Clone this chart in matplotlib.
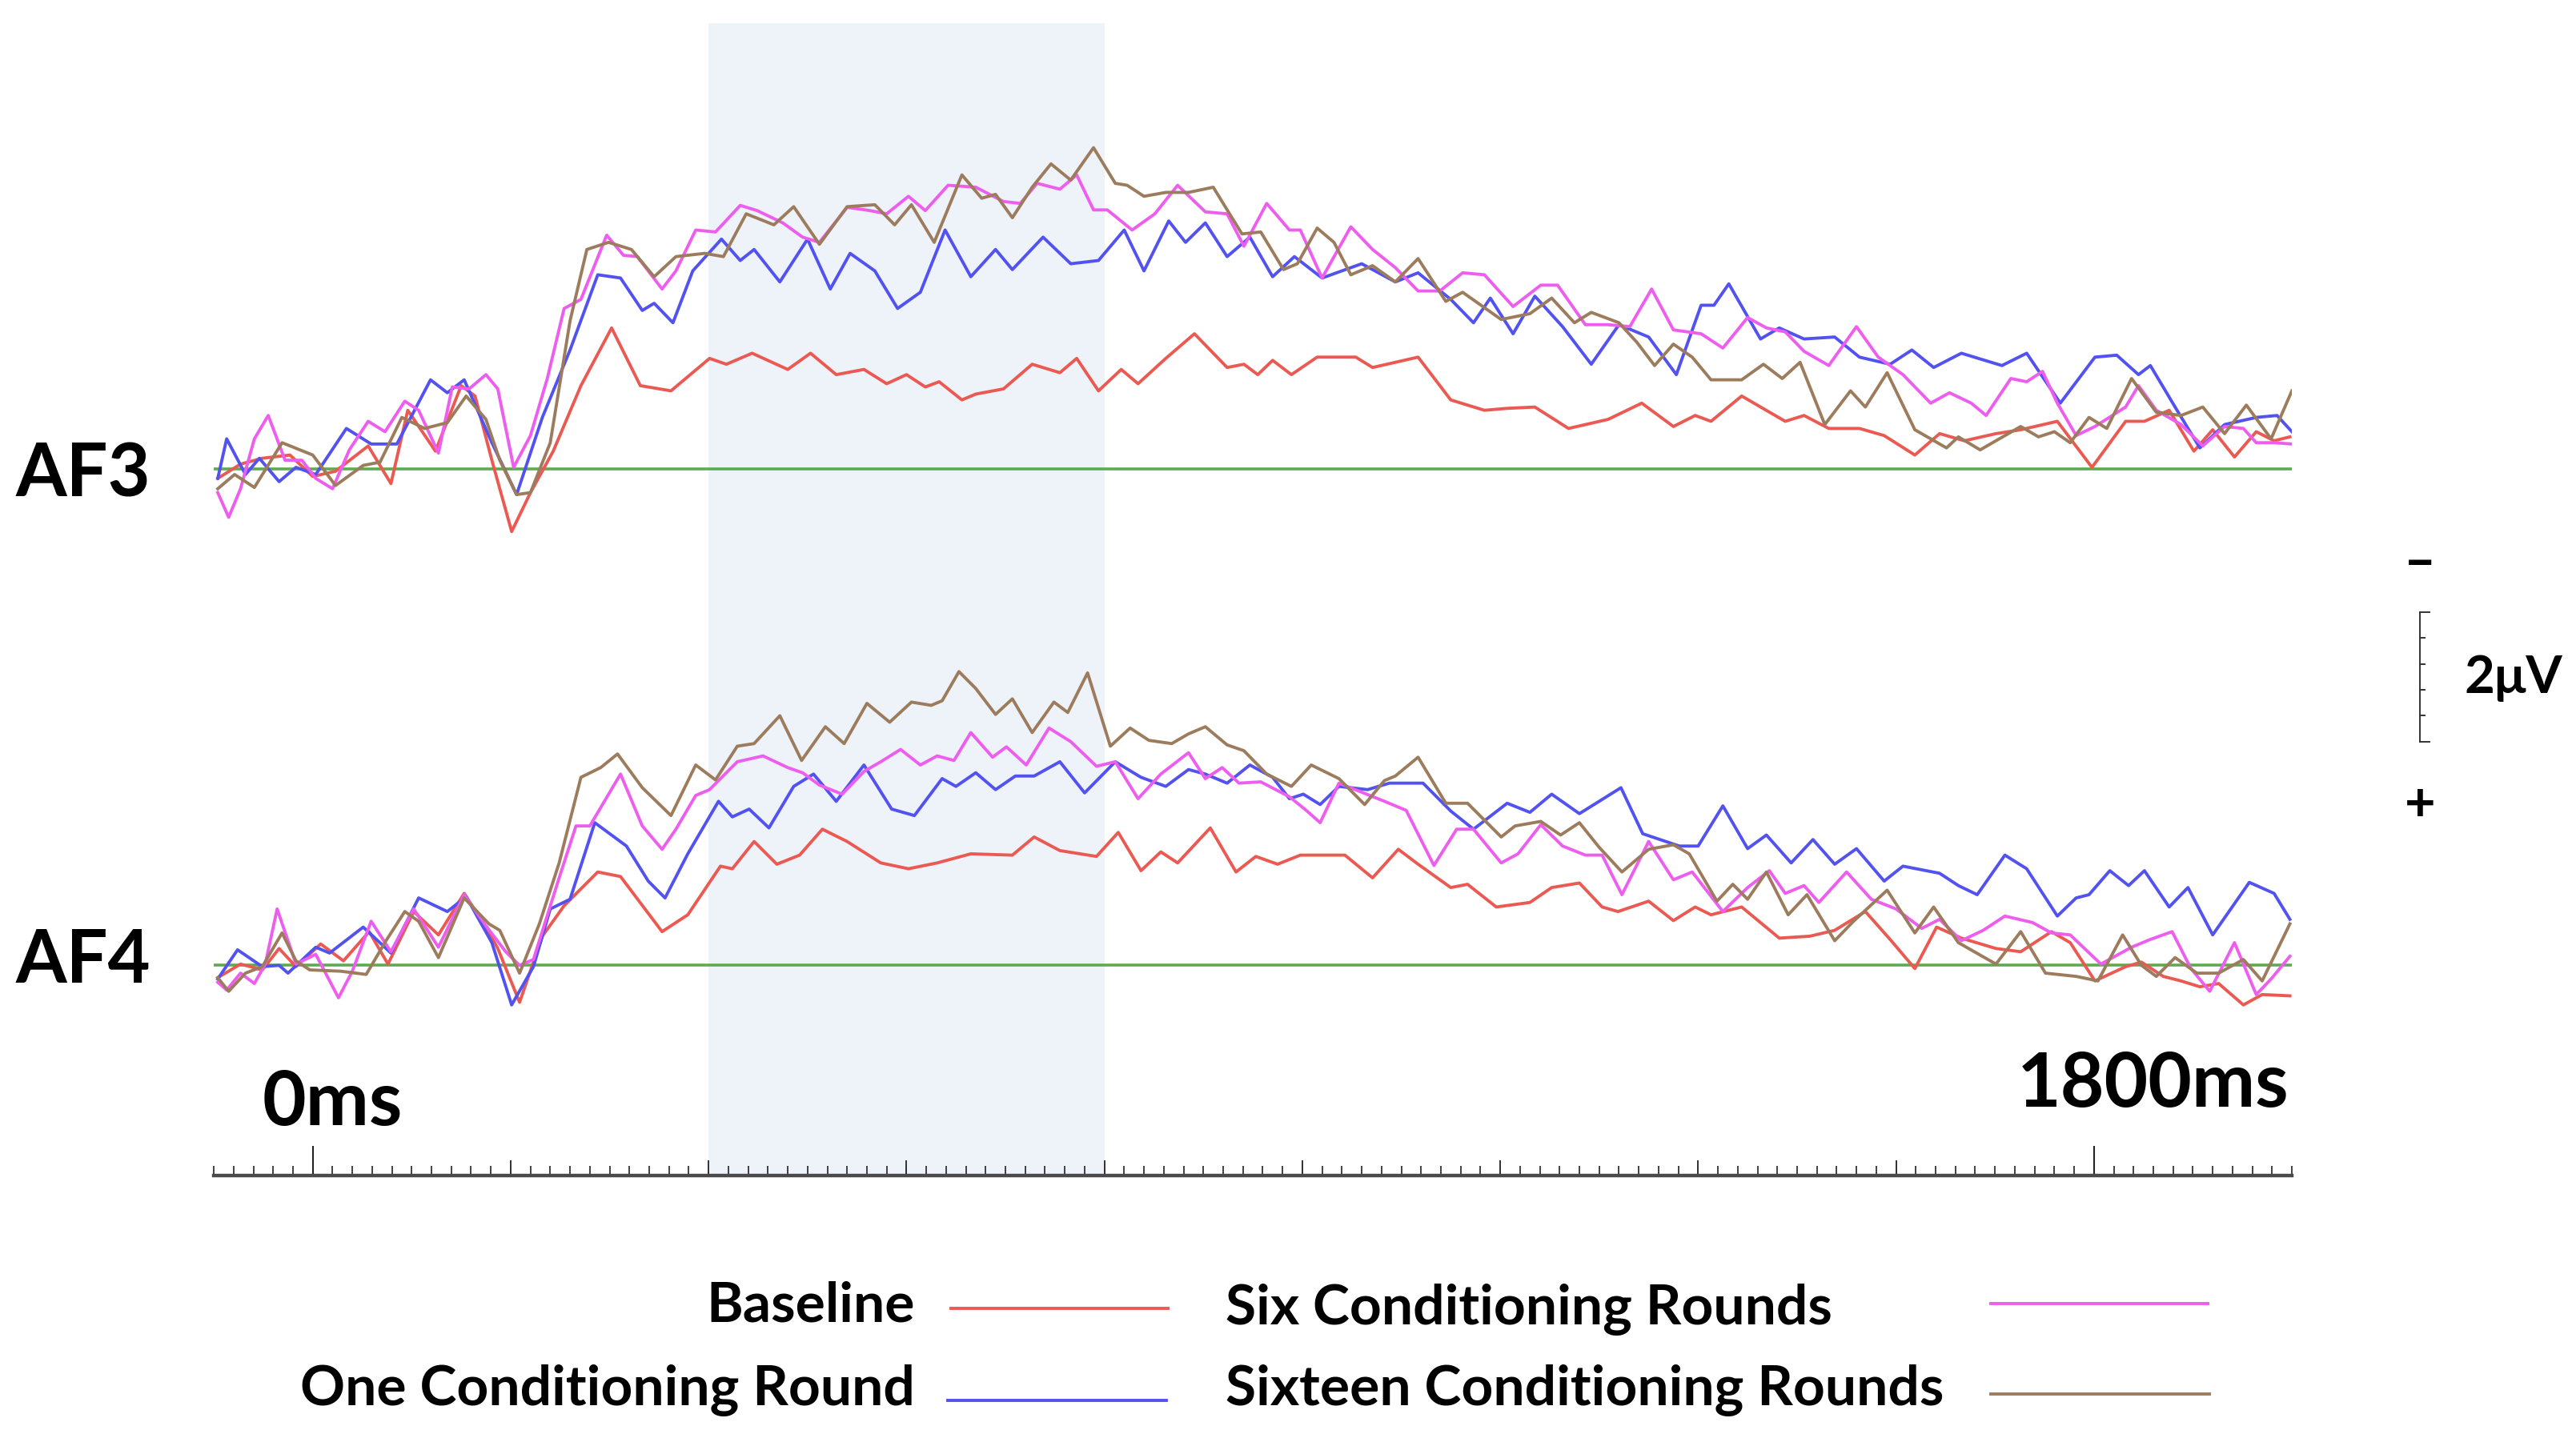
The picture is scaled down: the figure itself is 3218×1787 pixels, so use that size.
import matplotlib
matplotlib.use('Agg')
import matplotlib.pyplot as plt
from matplotlib.ticker import MultipleLocator, NullLocator
from matplotlib.lines import Line2D

# ERP traces, (time in ms, amplitude in uV), negative plotted up
af3_baseline = [(-96,0.14),(-73,-0.08),(-51,-0.17),(-23,-0.22),(0,0.11),(23,0.03),(56,-0.36),(79,0.22),(96,-0.91),(124,-0.28),
    (150,-1.29),(164,-1.13),(181,-0.14),(201,0.96),(220,0.36),(243,-0.28),(271,-1.29),(302,-2.18),(331,-1.29),(362,-1.21),
    (401,-1.71),(418,-1.62),(444,-1.79),(480,-1.54),(503,-1.79),(529,-1.46),(557,-1.54),(580,-1.32),(600,-1.46),(619,-1.27),
    (633,-1.35),(656,-1.07),(670,-1.16),(698,-1.24),(727,-1.62),(755,-1.49),(772,-1.71),(794,-1.21),(817,-1.54),(834,-1.32),
    (862,-1.71),(891,-2.09),(924,-1.57),(941,-1.62),(955,-1.46),(970,-1.68),(989,-1.46),(1015,-1.73),(1054,-1.73),(1071,-1.57),
    (1117,-1.73),(1150,-1.07),(1184,-0.91),(1207,-0.94),(1235,-0.96),(1269,-0.63),(1309,-0.77),(1343,-1.02),(1375,-0.66),(1397,-0.83),
    (1413,-0.74),(1444,-1.13),(1488,-0.74),(1507,-0.83),(1532,-0.63),(1563,-0.63),(1588,-0.52),(1619,-0.22),(1644,-0.55),(1669,-0.44),
    (1701,-0.55),(1726,-0.61),(1763,-0.74),(1798,-0.03),(1832,-0.74),(1851,-0.74),(1876,-0.91),(1901,-0.28),(1920,-0.61),(1942,-0.19),
    (1964,-0.58),(1982,-0.44),(1998,-0.50)]

af3_one = [(-96,0.14),(-87,-0.47),(-68,0.08),(-54,-0.17),(-34,0.19),(-17,-0.03),(3,0.08),(34,-0.63),(59,-0.39),(85,-0.39),
    (119,-1.38),(136,-1.18),(153,-1.38),(181,-0.41),(206,0.39),(232,-0.80),(260,-1.84),(288,-3.00),(311,-2.95),(333,-2.45),
    (345,-2.56),(364,-2.26),(384,-3.06),(413,-3.55),(432,-3.22),(446,-3.39),(472,-2.89),(500,-3.55),(523,-2.78),(543,-3.33),
    (568,-3.06),(591,-2.48),(614,-2.73),(639,-3.69),(665,-2.97),(690,-3.39),(707,-3.08),(738,-3.58),(766,-3.17),(794,-3.22),
    (820,-3.69),(840,-3.06),(865,-3.83),(882,-3.50),(902,-3.80),(924,-3.28),(947,-3.58),(970,-2.97),(992,-3.28),(1020,-2.95),
    (1060,-3.17),(1094,-2.89),(1117,-3.03),(1150,-2.62),(1173,-2.26),(1190,-2.64),(1213,-2.09),(1235,-2.67),(1263,-2.20),(1292,-1.62),
    (1320,-2.23),(1350,-2.04),(1378,-1.46),(1403,-2.53),(1416,-2.53),(1431,-2.86),(1463,-2.01),(1482,-2.18),(1507,-2.01),(1538,-2.04),
    (1563,-1.73),(1594,-1.62),(1616,-1.84),(1638,-1.57),(1666,-1.79),(1707,-1.60),(1732,-1.79),(1766,-1.02),(1801,-1.73),(1823,-1.76),
    (1845,-1.46),(1857,-1.60),(1882,-0.96),(1907,-0.33),(1932,-0.69),(1964,-0.80),(1985,-0.83),(2000,-0.58)]

af3_six = [(-96,0.36),(-85,0.74),(-73,0.30),(-59,-0.47),(-45,-0.83),(-28,-0.14),(-11,-0.14),(3,0.14),(20,0.30),(37,-0.30),
    (56,-0.74),(73,-0.58),(93,-1.05),(107,-0.91),(127,-0.25),(141,-1.27),(158,-1.24),(175,-1.46),(187,-1.24),(203,-0.03),
    (220,-0.52),(237,-1.40),(254,-2.48),(271,-2.62),(297,-3.61),(314,-3.30),(328,-3.28),(353,-2.78),(367,-3.06),(387,-3.69),
    (407,-3.66),(432,-4.07),(449,-3.99),(475,-3.80),(495,-3.58),(512,-3.50),(540,-4.04),(563,-3.99),(580,-3.94),(602,-4.21),
    (619,-3.99),(642,-4.38),(670,-4.35),(698,-4.13),(715,-4.10),(732,-4.41),(755,-4.32),(772,-4.54),(789,-4.00),(803,-4.00),
    (828,-3.69),(851,-3.94),(874,-4.38),(902,-3.97),(924,-3.94),(941,-3.44),(964,-4.10),(987,-3.69),(998,-3.69),(1020,-2.95),
    (1049,-3.74),(1071,-3.39),(1094,-3.11),(1117,-2.75),(1139,-2.75),(1162,-3.03),(1184,-3.00),(1213,-2.51),(1241,-2.84),(1258,-2.84),
    (1286,-2.23),(1309,-2.23),(1331,-2.20),(1353,-2.78),(1375,-2.15),(1403,-2.09),(1425,-1.87),(1450,-2.34),(1469,-2.18),(1488,-2.12),
    (1507,-1.82),(1532,-1.60),(1560,-2.20),(1582,-1.73),(1607,-1.46),(1635,-1.02),(1654,-1.18),(1676,-1.02),(1691,-0.83),(1716,-1.40),
    (1732,-1.35),(1748,-1.51),(1763,-1.02),(1782,-0.52),(1801,-0.66),(1832,-0.96),(1845,-1.29),(1863,-0.91),(1888,-0.69),(1910,-0.36),
    (1932,-0.66),(1951,-0.63),(1964,-0.41),(1982,-0.41),(2000,-0.39)]

af3_sixteen = [(-96,0.30),(-79,0.08),(-59,0.28),(-31,-0.41),(0,-0.22),(23,0.25),(51,-0.06),(68,-0.11),(90,-0.80),(113,-0.63),
    (136,-0.72),(155,-1.13),(175,-0.77),(189,-0.14),(206,0.39),(220,0.36),(240,-0.41),(260,-2.29),(277,-3.39),(299,-3.50),
    (322,-3.39),(345,-2.97),(367,-3.28),(396,-3.33),(415,-3.28),(438,-3.94),(466,-3.77),(486,-4.05),(512,-3.47),(540,-4.05),
    (568,-4.08),(588,-3.77),(605,-4.08),(628,-3.50),(656,-4.54),(676,-4.18),(690,-4.24),(707,-3.88),(727,-4.35),(746,-4.71),
    (766,-4.46),(789,-4.96),(811,-4.41),(823,-4.38),(840,-4.21),(862,-4.27),(885,-4.27),(910,-4.35),(939,-3.63),(958,-3.66),
    (981,-3.08),(995,-3.17),(1015,-3.72),(1032,-3.50),(1049,-3.00),(1071,-3.14),(1094,-2.89),(1117,-3.25),(1145,-2.59),(1162,-2.73),
    (1201,-2.31),(1230,-2.40),(1252,-2.64),(1275,-2.26),(1292,-2.42),(1320,-2.26),(1338,-1.96),(1356,-1.60),(1375,-1.93),(1394,-1.73),
    (1413,-1.38),(1444,-1.38),(1466,-1.62),(1485,-1.40),(1503,-1.65),(1528,-0.69),(1554,-1.21),(1569,-0.96),(1591,-1.49),(1619,-0.61),
    (1651,-0.33),(1663,-0.50),(1685,-0.30),(1726,-0.66),(1744,-0.50),(1760,-0.58),(1776,-0.41),(1795,-0.80),(1813,-0.63),(1838,-1.40),
    (1863,-0.88),(1888,-0.83),(1910,-0.96),(1932,-0.55),(1954,-0.99),(1979,-0.47),(2000,-1.21)]

af4_baseline = [(-96,0.19),(-73,-0.02),(-51,0.07),(-34,-0.26),(-17,0.02),(8,-0.33),(31,-0.07),(57,-0.52),(76,-0.02),(102,-0.83),
    (127,-0.47),(153,-1.11),(175,-0.59),(187,-0.26),(209,0.57),(232,-0.45),(254,-0.92),(288,-1.44),(311,-1.37),(353,-0.52),
    (379,-0.78),(412,-1.53),(424,-1.49),(446,-1.91),(469,-1.56),(492,-1.70),(515,-2.10),(540,-1.91),(574,-1.58),(602,-1.49),
    (631,-1.58),(665,-1.72),(707,-1.70),(729,-1.98),(755,-1.77),(792,-1.68),(814,-2.05),(837,-1.46),(857,-1.75),(874,-1.58),
    (907,-2.12),(933,-1.44),(953,-1.68),(975,-1.56),(998,-1.70),(1043,-1.70),(1071,-1.35),(1097,-1.79),(1117,-1.56),(1150,-1.20),
    (1167,-1.25),(1196,-0.90),(1230,-0.97),(1252,-1.20),(1280,-1.27),(1303,-0.90),(1319,-0.83),(1350,-0.99),(1375,-0.69),(1397,-0.90),
    (1413,-0.78),(1444,-0.90),(1482,-0.42),(1513,-0.45),(1538,-0.54),(1569,-0.83),(1594,-0.40),(1619,0.05),(1641,-0.59),(1666,-0.42),
    (1701,-0.26),(1726,-0.21),(1757,-0.52),(1776,-0.35),(1801,0.24),(1832,0.02),(1848,-0.05),(1870,0.17),(1888,0.24),(1907,0.33),
    (1926,0.28),(1951,0.61),(1970,0.45),(1998,0.47)]

af4_one = [(-96,0.21),(-76,-0.24),(-51,0.02),(-34,0.00),(-25,0.12),(3,-0.28),(17,-0.19),(51,-0.59),(79,-0.19),(107,-1.04),
    (136,-0.83),(155,-1.06),(181,-0.35),(201,0.61),(223,0.02),(240,-0.87),(260,-1.02),(285,-2.20),(317,-1.84),(339,-1.30),
    (356,-1.04),(379,-1.72),(410,-2.53),(424,-2.29),(441,-2.41),(461,-2.12),(486,-2.76),(506,-2.95),(529,-2.53),(557,-3.09),
    (585,-2.41),(608,-2.31),(636,-2.88),(650,-2.76),(670,-2.97),(690,-2.71),(710,-2.92),(729,-2.92),(755,-3.14),(780,-2.66),
    (811,-3.14),(837,-2.90),(862,-2.76),(885,-3.02),(902,-2.95),(924,-2.81),(947,-3.09),(970,-2.90),(987,-2.57),(1001,-2.64),
    (1018,-2.48),(1037,-2.76),(1066,-2.71),(1088,-2.81),(1122,-2.81),(1150,-2.38),(1173,-2.10),(1207,-2.50),(1230,-2.36),(1252,-2.64),
    (1280,-2.34),(1300,-2.53),(1322,-2.74),(1344,-2.03),(1381,-1.84),(1400,-1.84),(1425,-2.46),(1450,-1.80),(1469,-2.01),(1494,-1.58),
    (1516,-1.94),(1538,-1.56),(1560,-1.80),(1588,-1.30),(1607,-1.53),(1644,-1.42),(1663,-1.23),(1682,-1.09),(1710,-1.70),(1732,-1.49),
    (1763,-0.76),(1782,-1.04),(1795,-1.09),(1816,-1.46),(1835,-1.23),(1851,-1.46),(1876,-0.90),(1895,-1.20),(1920,-0.47),(1957,-1.28),
    (1982,-1.11),(1998,-0.71)]

af4_six = [(-96,0.26),(-87,0.38),(-73,0.12),(-59,0.28),(-48,-0.02),(-36,-0.87),(-17,-0.02),(3,-0.17),(26,0.50),(40,0.09),
    (59,-0.68),(79,-0.21),(102,-0.87),(127,-0.28),(153,-1.09),(175,-0.61),(195,-0.21),(209,0.00),(223,-0.09),(249,-1.35),
    (266,-2.15),(280,-2.15),(311,-2.95),(333,-2.15),(353,-1.79),(367,-2.10),(387,-2.62),(401,-2.71),(429,-3.14),(455,-3.23),
    (480,-3.05),(495,-2.97),(512,-2.78),(535,-2.64),(557,-2.99),(574,-3.14),(594,-3.33),(614,-3.09),(631,-3.23),(648,-3.16),
    (665,-3.59),(687,-3.21),(701,-3.37),(721,-3.09),(744,-3.66),(766,-3.45),(792,-3.07),(811,-3.14),(834,-2.57),(857,-2.95),
    (885,-3.28),(902,-2.88),(919,-3.05),(936,-2.81),(958,-2.83),(987,-2.60),(1004,-2.39),(1018,-2.20),(1037,-2.81),(1060,-2.67),
    (1083,-2.53),(1105,-2.39),(1133,-1.54),(1156,-2.10),(1173,-2.10),(1201,-1.58),(1218,-1.72),(1241,-2.17),(1263,-1.84),(1286,-1.70),
    (1303,-1.70),(1323,-1.09),(1350,-1.91),(1375,-1.32),(1394,-1.44),(1425,-0.83),(1450,-1.20),(1472,-1.46),(1488,-1.11),(1507,-1.23),
    (1522,-0.97),(1550,-1.44),(1575,-1.02),(1600,-0.87),(1626,-0.57),(1644,-0.71),(1666,-0.38),(1688,-0.54),(1710,-0.76),(1738,-0.66),
    (1757,-0.50),(1776,-0.47),(1807,-0.02),(1838,-0.28),(1857,-0.40),(1879,-0.52),(1898,0.05),(1917,0.40),(1942,-0.35),(1964,0.45),
    (1979,0.21),(1998,-0.14)]

af4_sixteen = [(-96,0.19),(-85,0.40),(-68,0.12),(-51,0.02),(-31,-0.50),(-17,-0.07),(-3,0.07),(28,0.09),(54,0.14),(74,-0.38),
    (93,-0.83),(107,-0.68),(127,-0.12),(153,-1.04),(178,-0.64),(189,-0.54),(209,0.12),(229,-0.64),(249,-1.58),(271,-2.90),
    (291,-3.05),(308,-3.26),(333,-2.74),(362,-2.31),(387,-3.09),(407,-2.86),(429,-3.38),(446,-3.42),(472,-3.85),(494,-3.16),
    (518,-3.68),(537,-3.42),(560,-4.04),(583,-3.75),(605,-4.06),(625,-4.01),(636,-4.08),(653,-4.53),(670,-4.27),(690,-3.87),
    (707,-4.11),(727,-3.59),(749,-4.06),(763,-3.90),(783,-4.51),(806,-3.38),(826,-3.66),(845,-3.47),(868,-3.42),(885,-3.57),
    (902,-3.68),(924,-3.40),(941,-3.31),(964,-2.95),(989,-2.76),(1009,-3.09),(1037,-2.88),(1063,-2.48),(1083,-2.85),(1094,-2.92),
    (1117,-3.21),(1145,-2.50),(1167,-2.50),(1201,-1.98),(1215,-2.15),(1241,-2.22),(1261,-2.01),(1280,-2.20),(1300,-1.82),(1323,-1.44),
    (1350,-1.79),(1375,-1.86),(1391,-1.72),(1419,-0.99),(1435,-1.25),(1450,-1.02),(1469,-1.44),(1491,-0.78),(1510,-1.09),(1538,-0.38),
    (1557,-0.68),(1591,-1.16),(1619,-0.50),(1638,-0.90),(1663,-0.35),(1701,-0.02),(1726,-0.52),(1751,0.12),(1782,0.17),(1804,0.24),
    (1829,-0.47),(1848,0.00),(1863,0.17),(1882,-0.12),(1904,0.12),(1926,0.12),(1951,-0.09),(1970,0.24),(1998,-0.64)]

conditions = ['Baseline', 'One Conditioning Round', 'Six Conditioning Rounds', 'Sixteen Conditioning Rounds']
colors = ['#EB5A52', '#5252F0', '#EE5EEE', '#9C7C5C']
channels = ['AF3', 'AF4']
offsets = [-7.65, 0.0]   # vertical offset of each channel, uV
traces = [[af3_baseline, af3_one, af3_six, af3_sixteen],
          [af4_baseline, af4_one, af4_six, af4_sixteen]]
window = (400, 800)      # shaded window, ms

########################################################################

FONT = ['Lato', 'DejaVu Sans']
plt.rcParams['font.family'] = FONT
plt.rcParams['font.weight'] = 'bold'

fig = plt.figure(figsize=(32.18, 17.87), dpi=100)
ax = fig.add_axes([0.0830, 0.1780, 0.8067, 0.8058])

ax.set_xlim(-100, 2000)
ax.set_ylim(3.24, -14.53)   # negative up

ax.axvspan(window[0], window[1], color='#EEF2F9', zorder=0, lw=0)

for off, chan in zip(offsets, traces):
    ax.axhline(off, color='#5EAA50', lw=2.6, zorder=1)
    for tr, c in zip(chan, colors):
        t = [p[0] for p in tr]
        v = [p[1] + off for p in tr]
        ax.plot(t, v, color=c, lw=2.8, zorder=2, solid_joinstyle='round')

# time axis
for s in ['left', 'right', 'top']:
    ax.spines[s].set_visible(False)
ax.spines['bottom'].set_color('#4a4a4a')
ax.spines['bottom'].set_linewidth(3.2)
ax.set_yticks([])
ax.set_xticks([0, 1800])
ax.xaxis.set_minor_locator(MultipleLocator(20))
ax.tick_params(axis='x', which='major', direction='in', length=27, width=1.5, color='#222222', labelbottom=False)
ax.tick_params(axis='x', which='minor', direction='in', length=9, width=1.3, color='#333333')

sec = ax.secondary_xaxis('bottom')
sec.set_xticks(list(range(200, 1800, 200)))
sec.xaxis.set_minor_locator(NullLocator())
sec.tick_params(axis='x', direction='in', length=14, width=1.4, color='#333333', labelbottom=False)
sec.spines['bottom'].set_visible(False)

ax.text(20, 2.13, '0ms', fontsize=68, ha='center', va='center', fontweight='bold')
ax.text(1860, 1.85, '1800ms', fontsize=68, ha='center', va='center', fontweight='bold')

# channel names
fig.text(0.0062, 0.653, 'AF3', fontsize=66, ha='left', va='baseline', fontweight='bold')
fig.text(0.0062, 0.3128, 'AF4', fontsize=66, ha='left', va='baseline', fontweight='bold')

# 2 uV scale bar
bx = 2129
ax.plot([bx, bx], [-5.45, -3.45], color='#333333', lw=1.4, clip_on=False)
for k in range(6):
    yk = -5.45 + 0.4 * k
    ln = 10 if k in (0, 5) else 5
    ax.plot([bx, bx + ln], [yk, yk], color='#333333', lw=1.4, clip_on=False)
fig.text(0.9394, 0.606, '–', fontsize=50, ha='center', va='center', fontweight='bold')
fig.text(0.9394, 0.4365, '+', fontsize=48, ha='center', va='center', fontweight='bold')
fig.text(0.9565, 0.5154, '2μV', fontsize=47, ha='left', va='baseline', fontweight='bold')

# legend
fig.text(0.3552, 0.0760, conditions[0], fontsize=50, ha='right', va='baseline')
fig.text(0.3552, 0.0175, conditions[1], fontsize=50, ha='right', va='baseline')
fig.text(0.4757, 0.0740, conditions[2], fontsize=50, ha='left', va='baseline')
fig.text(0.4757, 0.0175, conditions[3], fontsize=50, ha='left', va='baseline')
fig.add_artist(Line2D([0.3692, 0.4534], [0.0851, 0.0851], color=colors[0], lw=2.8))
fig.add_artist(Line2D([0.3679, 0.4528], [0.0207, 0.0207], color=colors[1], lw=2.8))
fig.add_artist(Line2D([0.7728, 0.8570], [0.0884, 0.0884], color=colors[2], lw=2.8))
fig.add_artist(Line2D([0.7728, 0.8576], [0.0252, 0.0252], color=colors[3], lw=2.8))

fig.savefig('out.png', dpi=100)
